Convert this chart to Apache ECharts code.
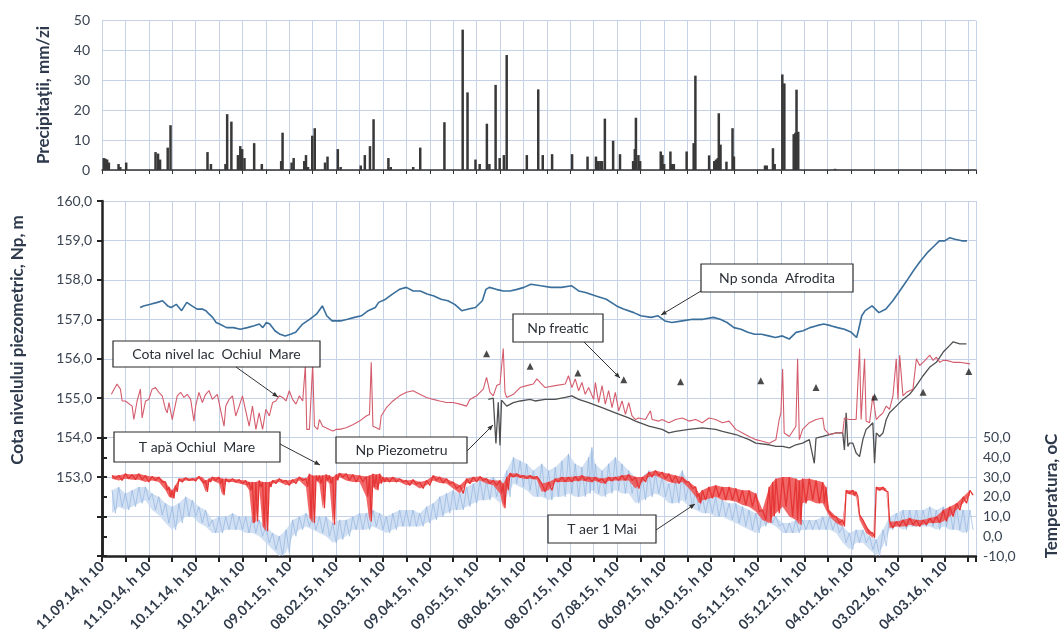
<!DOCTYPE html>
<html><head><meta charset="utf-8">
<script src="https://cdn.jsdelivr.net/npm/echarts@6/dist/echarts.min.js"></script>
<style>html,body{margin:0;padding:0;background:#fff}#c{width:1064px;height:644px}</style>
</head><body><div id="c"></div>
<script>
// ---- tick labels (one every 30 days, day 0 = 11.09.14) ----
const dateLabels = ['11.09.14, h 10','11.10.14, h 10','10.11.14, h 10','10.12.14, h 10','09.01.15, h 10','08.02.15, h 10','10.03.15, h 10','09.04.15, h 10','09.05.15, h 10','08.06.15, h 10','08.07.15, h 10','07.08.15, h 10','06.09.15, h 10','06.10.15, h 10','05.11.15, h 10','05.12.15, h 10','04.01.16, h 10','03.02.16, h 10','04.03.16, h 10'];

// ---- daily precipitation (day, mm) ----
const precipDays = [1.1,2.2,3.3,4.4,10.6,11.7,15.5,34.3,35.9,37.2,42.1,43.9,67.6,69.8,79.1,80.2,82.9,87.1,88.6,89.8,91.3,97.5,102.4,114.8,115.7,121.5,122.8,129.6,130.7,132,134.7,136.3,142.9,144.5,151.1,152.9,165.8,168.4,171.7,174,183.5,185,199.4,203.9,219.4,231.1,234.2,239.3,242,246.6,248.2,252.2,254.8,257.5,259.3,272.2,279.5,282.4,288.4,301.2,311.1,316.5,317.8,319.3,320.4,322.2,327.5,331.9,340.3,341.4,342.1,343.7,344.8,358,359.1,360.2,364.2,365.1,366.4,374.6,379.1,380.2,389,392.3,393.4,394.5,395.2,396.3,400.1,404,404.9,424.8,425.9,429.9,431,435.9,437.2,443.2,444.3,445,446.1,469.7];
const precipMm = [4,3.8,3.5,2.5,2,1,2.5,6,5.5,3.5,7.5,15,6,2,2,18.7,16.2,5,8,7,4,9,2,3,12.5,2.5,4,3,5,1,11.5,14,2.5,4.5,7,1,1.5,5,8,17,4,1,1,7.5,16,47,26,3.5,2,15.5,2,28.5,4,5,38.5,5,27,5,5.3,5.3,4.5,4.5,3,3,3,17.2,9.8,5.3,3,7,17.5,5,3,6.2,5,2,6.2,2,2,6.2,9,31.6,4.9,3,3.5,4,19,8.5,2.8,14,4.5,1.5,1.5,7.3,2,32,29,12,12.5,26.9,12.8,0.4];

// ---- Np sonda Afrodita (day, m) ----
const afroDays = [24.4,26.6,31,35.5,38.8,42.1,44.3,47.6,51,54.3,57.6,60.9,64.3,66.5,68.7,70.9,73.1,75.3,79.8,84.2,88.6,93.1,97.5,100.8,103,105.3,107.5,110.8,114.1,117.4,120.8,124.1,128.5,133,137.4,141.2,144,147.4,152.9,157.3,161.8,166.2,170.6,175.1,177.3,181.7,186.1,190.6,195,199.4,203.9,208.3,212.7,217.2,221.6,226,230.5,234.9,239.3,243.7,246,248.2,252.6,257.1,261.5,265.9,270.4,274.8,281.1,287.7,294.3,301,305.4,309.8,316.5,323.1,329.7,334.1,340.8,345.2,351.8,356.3,360.7,365.1,371.8,378.4,385,391.7,396.1,400.5,404.9,409.4,413.8,418.2,422.6,427.1,431.5,435.9,440.3,444.7,449.2,453.6,458,462.4,466.9,471.3,475.7,480.1,483.5,484.6,486.8,489,493.4,497.8,502.3,506.7,511.1,515.5,519.9,524.4,528.8,533.2,536.5,539.9,543.2,546.5,550.9,554.2];
const afroLevel = [157.30,157.34,157.38,157.43,157.47,157.34,157.30,157.38,157.22,157.43,157.34,157.26,157.26,157.22,157.13,157.05,156.92,156.88,156.79,156.79,156.75,156.79,156.84,156.88,156.79,156.92,156.88,156.71,156.62,156.58,156.62,156.67,156.88,157.00,157.13,157.34,157.09,156.96,156.96,157.00,157.05,157.09,157.22,157.30,157.43,157.51,157.64,157.76,157.81,157.72,157.72,157.64,157.59,157.51,157.47,157.38,157.22,157.26,157.30,157.47,157.76,157.81,157.76,157.72,157.72,157.76,157.81,157.89,157.85,157.81,157.81,157.85,157.72,157.68,157.59,157.51,157.34,157.26,157.17,157.09,157.05,157.09,156.96,156.92,156.96,157.00,157.00,157.05,157.00,156.92,156.79,156.75,156.67,156.62,156.62,156.58,156.54,156.58,156.50,156.67,156.71,156.79,156.84,156.88,156.84,156.79,156.75,156.67,156.54,156.71,157.09,157.22,157.34,157.17,157.26,157.47,157.72,157.97,158.23,158.48,158.69,158.86,158.99,158.99,159.07,159.03,158.99,158.99];

// ---- Cota nivel lac Ochiul Mare (day, m) ----
const lakeDays = [6,9.6,11.8,12.9,15,19.3,20.4,22.5,24.6,25.7,27.9,30,32.1,34.3,36.4,38.6,40.7,41.8,42.9,45,46.1,48.2,50.4,52.5,54.6,56.8,58.9,60,62.1,64.3,66.4,68.6,70.7,73.9,76.1,78.2,79.3,81.4,83.6,85.7,87.9,90,92.1,94.3,96.4,98.6,100.7,102.9,105,107.2,109.3,111.4,113.6,115.7,117.9,120,122.1,124.3,126.4,128.6,130.3,131.2,132.9,135,136.1,138.2,139.3,141.4,145.7,147.9,150,152.2,156.4,160.7,165,169.3,171.4,172.5,173.6,175.7,177.9,178.9,182.2,186.4,190.7,195,199.3,203.6,207.9,212.2,216.4,220.7,225,229.3,233.6,235.7,240,244.3,246.4,248.6,250.7,252.9,255,257.1,258.2,259.3,263.6,267.9,272.1,276.4,278.6,283.9,290.4,296.8,298.9,301.1,303.2,305.4,307.5,309.6,311.8,315,316.1,318.2,320.4,322.5,324.6,326.8,328.9,331.1,333.2,335.4,337.5,339.6,341.8,343.9,348.2,351.4,352.5,356.8,358.9,363.2,367.5,371.8,376.1,380.4,384.6,388.9,393.2,397.5,401.8,406.1,410.4,414.6,418.9,423.2,427.5,431.8,433.9,435,436.1,437.1,440.4,444.6,445.7,446.8,448.9,453.2,457.5,461.8,462.9,466.1,470.4,474.6,475.7,478.9,483.2,485.4,486.4,488.6,489.6,491.8,493.9,496.1,498.2,500.4,502.5,504.6,506.8,508.9,510,511.1,513.2,515.4,519.6,521.8,523.9,526.1,528.2,530.4,532.5,534.6,536.8,539,541.1,545.4,549.6,556.1];
const lakeLevel = [155.10,155.36,155.23,154.93,154.93,154.80,154.46,154.93,155.23,154.50,154.93,154.97,155.23,155.27,155.15,155.06,154.72,154.63,154.89,154.46,154.46,155.06,155.15,155.02,155.10,154.97,154.42,154.80,155.15,154.89,155.10,155.19,154.97,155.10,154.68,154.29,154.80,154.97,155.06,154.55,154.80,155.06,154.68,154.29,154.80,154.21,154.63,154.21,154.72,154.55,154.89,154.93,155.06,155.02,154.93,155.19,154.97,154.85,155.06,154.93,155.83,154.21,154.21,155.87,154.29,154.21,154.46,154.29,154.21,154.17,154.21,154.21,154.25,154.33,154.42,154.55,154.59,155.91,154.29,154.25,154.21,154.55,154.76,154.93,155.06,155.15,155.19,155.10,155.02,154.97,154.93,154.89,154.89,154.85,154.80,154.97,155.06,155.23,155.53,155.15,155.06,155.32,155.36,156.26,155.15,155.02,155.10,155.27,155.32,155.36,155.49,155.27,155.32,155.36,155.57,155.27,155.49,155.19,155.40,155.10,155.27,154.97,155.40,154.89,155.32,154.85,155.19,154.76,155.15,154.68,154.93,154.59,154.89,154.55,154.46,154.50,154.46,154.68,154.46,154.42,154.46,154.38,154.46,154.50,154.42,154.46,154.38,154.50,154.46,154.38,154.42,154.21,154.12,154.03,153.95,153.91,153.86,153.95,154.46,154.63,155.74,154.12,154.03,154.29,156.00,153.95,154.21,154.38,154.46,154.50,154.21,154.08,154.12,154.12,154.50,154.46,154.46,156.26,154.46,156.00,154.42,154.38,155.06,154.46,154.55,154.63,154.80,154.72,155.06,156.00,154.97,156.09,155.06,155.15,155.23,156.00,155.83,155.91,156.00,156.09,155.96,156.04,155.91,155.96,155.96,155.91,155.91,155.87];

// ---- Np Piezometru (day, m) ----
const piezoDays = [247.5,250.7,252.4,253.9,255,256,259.3,263.6,267.9,274.3,277.5,283.9,290.4,296.8,301.1,305.4,311.8,320.4,328.9,337.5,341.8,350.4,358.9,363.2,367.5,376.1,384.6,393.2,397.5,406.1,414.6,418.9,427.5,431.8,436.1,440.4,444.6,448.9,453.2,456.4,457.5,461.8,466.1,470.4,474.6,475.7,476.8,477.9,478.9,481.1,483.2,485.4,487.5,489.6,491.8,493.9,495,496.1,498.2,500.4,502.5,504.6,508.9,513.2,517.5,521.8,526.1,530.4,534.6,539,543.2,545.4,549.6,553.9];
const piezoLevel = [154.97,155.00,153.85,154.90,153.80,154.95,154.80,154.89,154.93,154.97,154.93,154.97,154.97,155.02,155.06,154.97,154.89,154.76,154.63,154.50,154.42,154.29,154.21,154.12,154.16,154.21,154.25,154.21,154.16,154.08,153.95,153.86,153.82,153.78,153.78,153.74,153.82,153.86,153.95,153.35,153.99,154.03,154.08,154.12,154.12,153.69,154.63,153.78,153.86,153.86,153.61,153.52,153.95,154.21,154.29,154.38,153.35,154.12,154.03,154.12,154.46,154.63,154.80,154.97,155.10,155.32,155.57,155.79,155.91,156.17,156.34,156.43,156.38,156.38];

// ---- Np freatic, occasional readings (day, m) ----
const freaticDays = [246.4,274.3,304.9,334.3,370.7,422.1,457.5,495,526.1,555.4];
const freaticLevel = [156.13,155.81,155.64,155.47,155.42,155.44,155.27,155.03,155.15,155.68];

// ---- T apă Ochiul Mare, °C: upper and lower edge of the daily swing ----
const waterDays = [6.4,10.7,15,19.3,23.6,27.9,32.1,36.4,40.7,42.9,45,47.1,49.3,53.6,57.9,62.1,64.3,66.4,68.6,70.7,75,77.1,79.3,83.6,87.9,92.1,94.3,96.4,98.6,100.7,102.9,105,107.2,109.3,113.6,117.9,122.1,126.4,130.7,132.9,135,137.2,139.3,141.4,143.6,145.7,147.9,150,152.2,156.4,160.7,165,169.3,171.4,173.6,175.7,177.9,180,182.2,186.4,190.7,195,199.3,203.6,207.9,212.2,216.4,220.7,225,229.3,233.6,237.9,242.2,246.4,250.7,255,257.1,259.3,261.4,265.7,270,274.3,278.6,281.8,286.1,290.4,294.6,298.9,303.2,307.5,311.8,316.1,320.4,324.6,328.9,333.2,337.5,341.8,346.1,350.4,354.6,358.9,363.2,367.5,371.8,376.1,380.4,382.5,384.6,388.9,393.2,397.5,401.8,406.1,410.4,414.6,418.9,423.2,427.5,429.7,431.8,436.1,440.4,444.6,446.8,448.9,453.2,457.5,461.8,463.9,466.1,470.4,474.6,476.8,481.1,483.2,485.4,489.6,493.9,496.1,500.4,502.5,504.6,508.9,513.2,517.5,521.8,526.1,530.4,534.6,539,543.2,547.5,551.8,556.1];
const waterHi = [30.8,30.8,31.7,31.3,31.7,30.8,30.3,30,27.5,25,23.3,25.8,29.2,29.7,29.2,30.3,30,28.3,29.2,30,30,29.2,29.2,29.2,28.7,28.3,27.5,27.5,27.5,28.3,27.5,27.5,27.5,28.3,29.2,28.3,28.7,30,29.2,31.7,30.8,30.8,30.8,30.8,31.3,30.8,30,31.3,32,31.7,31.3,30.8,30.3,30.8,31.7,31.3,31.7,30,29.7,30,29.2,28.3,28.7,27.5,28.3,30.8,30,29.2,27.5,25.8,29.2,30,30.3,29.2,28.3,28.3,26.7,30,32,31.7,30.8,30.8,30.3,26.7,27.5,29.2,30,30,30.3,30.8,30,30,29.2,30,30,30.8,31.3,30,30,32.5,33.3,32.5,31.7,30.8,30,27.5,25,21.7,23.3,25,25.8,25,25,24.2,23.3,23.3,21.7,13.3,25,27.5,29.2,30,30,29.2,28.3,29.2,29.2,28.3,27.5,25,13.3,10,8.3,23.3,23.3,22.5,10.8,5,1.7,25,25,24.2,7.5,7.5,8.3,9.2,8.3,8.3,9.2,10,13.3,15,16.7,20,23.3];
const waterLo = [29.2,28.3,29.2,28.7,28.7,27.5,28.3,27.5,23.3,20,19.2,22.5,27.5,28.3,28,29.2,27,22.5,27.5,28.3,26.7,20.8,27.5,27.5,26.7,25.8,23.3,6.7,7.5,25,5,2.5,25,26.7,27.5,25.8,26.7,28.3,25,9.2,6.7,28.3,26.7,14.2,28.3,26.7,5.8,28.3,30,28.3,27.5,27.5,20,7.5,25,23.3,26.7,27.5,27.5,27.5,27.5,25.8,26.3,24.2,25.8,28.3,27,26.7,24.2,21.7,26.7,27.5,28.3,26.7,25.8,21.7,14.2,23.3,30,30,29.2,29.2,28.7,22.5,23.3,27.5,27.5,27.5,28,28.3,27.5,28,26.7,28,28.3,28.3,28.3,24.2,27.5,30,30.8,29.2,27.5,26.7,27.5,24.2,20,16.7,18.3,19.2,20,18.3,18.3,17.5,15.8,15,12.5,8.3,6.7,10,11.7,15,10,8.3,5.8,16.7,18.3,16.7,16.7,13.3,10,6.7,5,21.7,20.8,20,8.3,1.7,-0.8,23.3,23.3,22.5,4.2,5,5,5.8,5,5.8,6.7,6.7,7.5,10,13.3,16.7,20.8];

// ---- T aer 1 Mai, °C: upper and lower edge of the daily swing ----
const airDays = [6.4,10.7,15,19.3,23.6,27.9,32.1,36.4,40.7,45,49.3,53.6,57.9,62.1,66.4,70.7,75,79.3,83.6,87.9,92.1,96.4,100.7,105,109.3,113.6,117.9,122.1,126.4,130.7,135,139.3,143.6,147.9,152.2,156.4,160.7,165,169.3,173.6,177.9,182.2,186.4,190.7,195,199.3,203.6,207.9,212.2,216.4,220.7,225,229.3,233.6,237.9,242.2,246.4,250.7,255,259.3,263.6,267.9,272.1,276.4,281.8,286.1,290.4,294.6,298.9,303.2,307.5,311.8,313.9,316.1,320.4,324.6,328.9,333.2,337.5,341.8,346.1,350.4,354.6,358.9,363.2,367.5,371.8,376.1,380.4,384.6,388.9,393.2,397.5,401.8,406.1,410.4,414.6,418.9,423.2,427.5,431.8,436.1,440.4,444.6,448.9,453.2,457.5,461.8,466.1,470.4,474.6,478.9,483.2,487.5,491.8,496.1,500.4,504.6,508.9,513.2,517.5,521.8,526.1,530.4,534.6,539,543.2,547.5,551.8,556.1];
const airHi = [23.3,25,21.7,23.3,25,25,21.7,20,16.7,15,16.7,20,18.3,15,13.3,8.3,10,10,11.7,10,10,10,8.3,5,1.7,0,3.3,8.3,10,11.7,10,10,10,6.7,8.3,8.3,10,11.7,11.7,13.3,11.7,10,11.7,13.3,13.3,13.3,11.7,15,16.7,20,21.7,23.3,21.7,25,26.7,28.3,28.3,30,26.7,33.3,40,38.3,36.7,33.3,36.7,33.3,35,38.3,41.7,36.7,35,40,45,36.7,33.3,36.7,40,36.7,33.3,30,30,33.3,31.7,30,26.7,28.3,33.3,26.7,23.3,20,20,20,18.3,16.7,16.7,15,13.3,11.7,13.3,13.3,10,6.7,6.7,8.3,8.3,8.3,8.3,10,10,8.3,5,1.7,3.3,3.3,0,-1.7,3.3,10,11.7,13.3,13.3,13.3,13.3,15,13.3,15,13.3,15,13.3,13.3];
const airLo = [11.7,15,13.3,15,16.7,18.3,13.3,10.8,6.7,3.3,6.7,10,10,6.7,5,1.7,1.7,3.3,3.3,3.3,1.7,1.7,0,-3.3,-6.7,-10,-8.3,0,3.3,5,3.3,1.7,0,-3.3,-1.7,0,3.3,3.3,3.3,5,3.3,1.7,3.3,5,5,5,5,6.7,8.3,10,11.7,13.3,13.3,15,16.7,18.3,18.3,20,16.7,20,26.7,25,23.3,20,20,18.3,20,20,21.7,20,20,21.7,23.3,21.7,20,21.7,23.3,21.7,21.7,16.7,18.3,20,21.7,20,16.7,16.7,18.3,15,13.3,11.7,11.7,10,10,8.3,6.7,5,3.3,1.7,5,6.7,5,1.7,1.7,1.7,3.3,3.3,3.3,3.3,3.3,1.7,-3.3,-6.7,-3.3,-3.3,-6.7,-10,-5,3.3,5,3.3,5,5,5,5,3.3,5,3.3,3.3,1.7,3.3];

// ---------------------------------------------------------------
const pairs = (xs, ys) => xs.map((x, i) => [x, ys[i]]);
function swing(xs, hi, lo) {
  const out = [];
  for (let i = 0; i < xs.length; i++) {
    out.push([xs[i], hi[i]]);
    const nx = i + 1 < xs.length ? (xs[i] + xs[i + 1]) / 2 : xs[i] + 2;
    out.push([nx, lo[i]]);
  }
  return out;
}
// band between lower and upper edges, placed through the axis scales
function bandSeries(xs, hi, lo, color, opacity, z) {
  return {
    type: 'custom', xAxisIndex: 2, yAxisIndex: 2, silent: true, z, clip: true,
    data: [[xs[0], lo[0]]],
    renderItem: (params, api) => {
      const pts = [];
      for (let i = 0; i < xs.length; i++) pts.push(api.coord([xs[i], hi[i]]));
      for (let i = xs.length - 1; i >= 0; i--) pts.push(api.coord([xs[i], lo[i]]));
      return { type: 'polygon', shape: { points: pts }, style: { fill: color, opacity } };
    }
  };
}
const comma = v => v.toFixed(1).replace('.', ',');

const FONT = 'Lato, "Open Sans", sans-serif';
const LBL = '#3a4452';
const GRIDC = '#c4d1e7';
const L = 102, R = 1064 - 976;

const xBase = {
  type: 'value', min: 0, max: 560, interval: 15,
  splitLine: { show: true, lineStyle: { color: GRIDC, width: 1 } }
};

const notes = [
  { text: 'Np sonda  Afrodita', x: 701, y: 264, w: 152, h: 28, a: [701, 291, 661, 315] },
  { text: 'Np freatic', x: 513, y: 314, w: 90, h: 28, a: [584, 342, 620, 378] },
  { text: 'Cota nivel lac  Ochiul  Mare', x: 113, y: 341, w: 207, h: 26, a: [236, 367, 278, 397] },
  { text: 'T apă Ochiul  Mare', x: 114, y: 432, w: 166, h: 30, a: [280, 444, 320, 465] },
  { text: 'Np Piezometru', x: 336, y: 437, w: 131, h: 26, a: [467, 451, 493, 425] },
  { text: 'T aer 1 Mai', x: 548, y: 515, w: 108, h: 28, a: [656, 530, 695, 504] }
];
const graphics = [];
notes.forEach(n => {
  graphics.push({ type: 'rect', z: 100, shape: { x: n.x, y: n.y, width: n.w, height: n.h },
    style: { fill: '#fff', stroke: '#2a2a2a', lineWidth: 1.2 } });
  graphics.push({ type: 'text', z: 101, x: n.x + n.w / 2, y: n.y + n.h / 2,
    style: { text: n.text, font: '14px ' + FONT, fill: '#2a2f36', align: 'center', verticalAlign: 'middle' } });
  const [x1, y1, x2, y2] = n.a;
  graphics.push({ type: 'line', z: 100, shape: { x1, y1, x2, y2 }, style: { stroke: '#333', lineWidth: 1 } });
  const ang = Math.atan2(y2 - y1, x2 - x1), s = 6, w = 0.4;
  graphics.push({ type: 'polygon', z: 100, shape: { points: [
    [x2, y2],
    [x2 - s * Math.cos(ang - w), y2 - s * Math.sin(ang - w)],
    [x2 - s * Math.cos(ang + w), y2 - s * Math.sin(ang + w)]] }, style: { fill: '#333' } });
});
const title = (t, x, y) => ({ type: 'text', z: 101, x, y, rotation: Math.PI / 2,
  style: { text: t, font: 'bold 17px ' + FONT, fill: '#2e3a4c', align: 'center', verticalAlign: 'middle' } });
graphics.push(title('Precipitaţii, mm/zi', 44, 95));
graphics.push(title('Cota nivelului piezometric, Np, m', 18, 340));
graphics.push(title('Temperatura, oC', 1052, 496));

const chart = echarts.init(document.getElementById('c'), null, { renderer: 'canvas' });
chart.setOption({
  animation: false,
  backgroundColor: '#fff',
  textStyle: { fontFamily: FONT },
  grid: [
    { left: L, right: R, top: 20.7, height: 149.3 },
    { left: L, right: R, top: 201, height: 355 },
    { left: L, right: R, top: 437.6, height: 118.4 }
  ],
  xAxis: [
    Object.assign({}, xBase, { gridIndex: 0,
      axisLine: { show: true, lineStyle: { color: '#333', width: 1.5 } },
      axisTick: { show: true, length: 4, lineStyle: { color: '#333' } },
      axisLabel: { show: false } }),
    Object.assign({}, xBase, { gridIndex: 1,
      axisLine: { show: true, lineStyle: { color: '#222', width: 2.5 } },
      axisTick: { show: true, length: 6, lineStyle: { color: '#222', width: 2 } },
      axisLabel: { show: true, interval: 0, rotate: 45, margin: 8, fontSize: 14, fontWeight: 'bold', color: '#2f3a4a',
        formatter: v => (v % 30 === 0 && dateLabels[v / 30]) ? dateLabels[v / 30] : '' } }),
    Object.assign({}, xBase, { gridIndex: 2, show: false, splitLine: { show: false } })
  ],
  yAxis: [
    { type: 'value', gridIndex: 0, min: 0, max: 50, interval: 10,
      axisLine: { show: false }, axisTick: { show: false },
      axisLabel: { fontSize: 14, color: LBL, margin: 12 },
      splitLine: { show: true, lineStyle: { color: GRIDC } } },
    { type: 'value', gridIndex: 1, min: 151, max: 160, interval: 1,
      axisLine: { show: true, lineStyle: { color: '#222', width: 2.5 } },
      axisTick: { show: true, length: 5, lineStyle: { color: '#222', width: 2 } },
      axisLabel: { fontSize: 14, color: LBL, margin: 10, formatter: v => v >= 153 ? comma(v) : '' },
      splitLine: { show: true, lineStyle: { color: GRIDC } } },
    { type: 'value', gridIndex: 2, position: 'right', min: -10, max: 50, interval: 10,
      axisLine: { show: true, lineStyle: { color: '#222', width: 2.5 } },
      axisTick: { show: true, length: 5, lineStyle: { color: '#222', width: 2 } },
      axisLabel: { fontSize: 14, color: LBL, margin: 7, formatter: v => comma(v) },
      splitLine: { show: false } }
  ],
  graphic: graphics,
  series: [
    { name: 'Precipitaţii', type: 'bar', xAxisIndex: 0, yAxisIndex: 0, barWidth: 2.5,
      itemStyle: { color: '#383838' }, data: pairs(precipDays, precipMm) },
    bandSeries(airDays, airHi, airLo, '#c6d8f0', 0.8, 1),
    { name: 'T aer 1 Mai', type: 'line', xAxisIndex: 2, yAxisIndex: 2, showSymbol: false,
      lineStyle: { color: '#8eb0de', width: 0.8, opacity: 0.8 }, data: swing(airDays, airHi, airLo), z: 2 },
    bandSeries(waterDays, waterHi, waterLo, '#ee4c4c', 0.85, 3),
    { name: 'T apă Ochiul Mare', type: 'line', xAxisIndex: 2, yAxisIndex: 2, showSymbol: false,
      lineStyle: { color: '#e53535', width: 1.3 }, data: swing(waterDays, waterHi, waterLo), z: 3 },
    { name: 'Np sonda Afrodita', type: 'line', xAxisIndex: 1, yAxisIndex: 1, showSymbol: false,
      lineStyle: { color: '#3a6f9c', width: 1.6 }, data: pairs(afroDays, afroLevel), z: 4 },
    { name: 'Np Piezometru', type: 'line', xAxisIndex: 1, yAxisIndex: 1, showSymbol: false,
      lineStyle: { color: '#505050', width: 1.3 }, data: pairs(piezoDays, piezoLevel), z: 4 },
    { name: 'Cota nivel lac Ochiul Mare', type: 'line', xAxisIndex: 1, yAxisIndex: 1, showSymbol: false,
      lineStyle: { color: '#d45c6c', width: 1.1 }, data: pairs(lakeDays, lakeLevel), z: 5 },
    { name: 'Np freatic', type: 'scatter', xAxisIndex: 1, yAxisIndex: 1, symbol: 'triangle', symbolSize: 7,
      itemStyle: { color: '#1e1e1e' }, data: pairs(freaticDays, freaticLevel), z: 6 }
  ]
});
</script>
</body></html>
